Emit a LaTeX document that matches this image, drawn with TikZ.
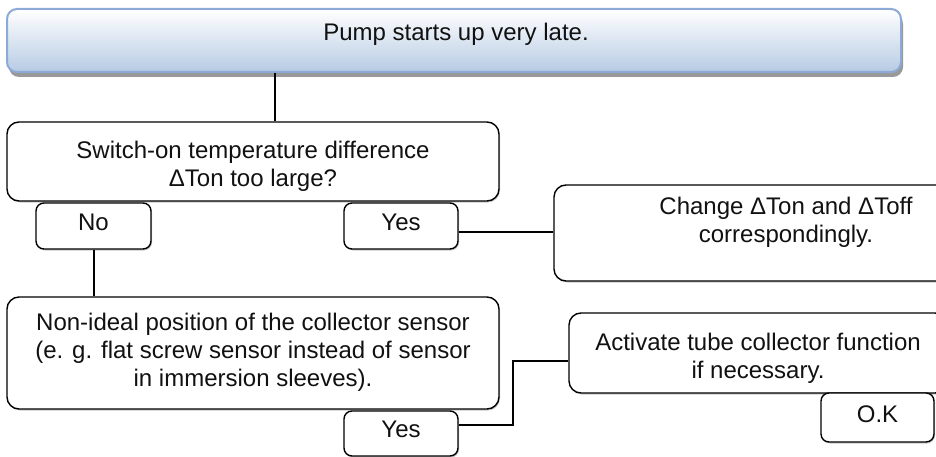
\documentclass[tikz,border=0pt]{standalone}
\usepackage{fontspec}
\setmainfont{Liberation Sans}
\usetikzlibrary{shadows}
\definecolor{topfill}{HTML}{B7CBE4}
\definecolor{topline}{HTML}{8DA9D5}
\definecolor{txt}{HTML}{111111}
\begin{document}
\begin{tikzpicture}[x=1pt,y=1pt,
  boxshape/.style={draw=black, line width=1.4pt, fill=white, rounded corners=12pt, inner sep=0pt,
    drop shadow={shadow xshift=1pt, shadow yshift=-1.5pt, fill=black!35, opacity=0.6}},
  smallbox/.style={boxshape, rounded corners=8pt},
  topbox/.style={draw=topline, line width=2pt, rounded corners=10pt, top color=white, bottom color=topfill, inner sep=0pt,
    drop shadow={shadow xshift=2pt, shadow yshift=-5pt, fill=black!40, opacity=1}},
  txtstyle/.style={font=\fontsize{24}{28}\selectfont, text=txt, align=center, inner sep=0pt},
  conn/.style={line width=2pt, black}
]
\useasboundingbox (0,0) rectangle (936,-457);
\clip (0,0) rectangle (936,-457);

% top box
\node[topbox, minimum width=894pt, minimum height=63pt] (top) at (454,-40.5) {};
\node[txtstyle] (topT) at (456,-34) {Pump starts up very late.};

% question 1
\node[boxshape, minimum width=492pt, minimum height=79pt] (q1) at (253,-161.5) {};
\node[txtstyle] (q1T) at (253,-166) {Switch-on temperature difference\\ΔTon too large?};

\node[smallbox, minimum width=115pt, minimum height=46pt] (no1) at (93.5,-226) {};
\node[txtstyle] (no1T) at (93.5,-222) {No};
\node[smallbox, minimum width=114pt, minimum height=46pt] (yes1) at (401,-226) {};
\node[txtstyle] (yes1T) at (401,-222) {Yes};

\node[boxshape, minimum width=464pt, minimum height=96pt] (chg) at (786,-233) {};
\node[txtstyle] (chgT) at (786,-222) {Change ΔTon and ΔToff\\correspondingly.};

% question 2
\node[boxshape, minimum width=492pt, minimum height=112pt] (q2) at (253,-353) {};
\node[txtstyle] (q2T) at (253,-352) {Non-ideal position of the collector sensor\\(e. g. flat screw sensor instead of sensor\\in immersion sleeves).};

\node[smallbox, minimum width=114pt, minimum height=45pt] (yes2) at (401,-433.5) {};
\node[txtstyle] (yes2T) at (401,-429) {Yes};

\node[boxshape, minimum width=378pt, minimum height=80pt] (act) at (758,-353) {};
\node[txtstyle] (actT) at (758,-358) {Activate tube collector function\\if necessary.};

\node[smallbox, minimum width=113pt, minimum height=49pt] (ok) at (877.5,-417.5) {};
\node[txtstyle] (okT) at (877.5,-414) {O.K};

% connectors
\coordinate (c1) at (275,0);
\coordinate (c2) at (0,-232);
\coordinate (c3) at (513,-425);
\coordinate (c4) at (0,-361);
\draw[conn] (top.south -| c1) -- (q1.north -| c1);
\draw[conn] (yes1.east |- c2) -- (chg.west |- c2);
\draw[conn] (no1.south) -- (no1.south |- q2.north);
\draw[conn] (yes2.east |- c3) -- (c3) |- (act.west |- c4);
\end{tikzpicture}
\end{document}
